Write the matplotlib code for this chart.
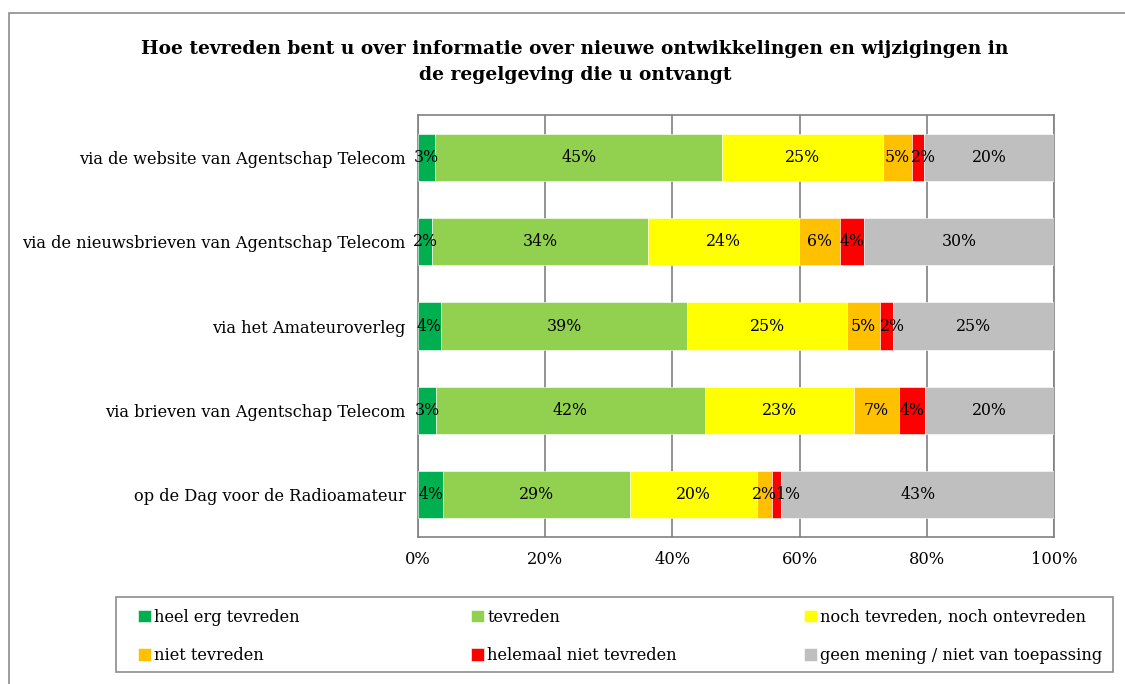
import matplotlib
matplotlib.use("Agg")
import matplotlib.pyplot as plt
from matplotlib.patches import Rectangle
import numpy as np

categories = [
    "via de website van Agentschap Telecom",
    "via de nieuwsbrieven van Agentschap Telecom",
    "via het Amateuroverleg",
    "via brieven van Agentschap Telecom",
    "op de Dag voor de Radioamateur",
]
series_names = [
    "heel erg tevreden",
    "tevreden",
    "noch tevreden, noch ontevreden",
    "niet tevreden",
    "helemaal niet tevreden",
    "geen mening / niet van toepassing",
]
heel_erg_tevreden = [2.7, 2.2, 3.6, 2.8, 4.0]
tevreden = [45.1, 34.0, 38.7, 42.3, 29.4]
noch = [25.3, 23.7, 25.2, 23.4, 19.9]
niet_tevreden = [4.6, 6.4, 5.1, 7.2, 2.4]
helemaal_niet = [1.9, 3.8, 2.1, 4.0, 1.4]
geen_mening = [20.4, 29.9, 25.3, 20.3, 42.9]
series = [heel_erg_tevreden, tevreden, noch, niet_tevreden, helemaal_niet, geen_mening]
colors = ["#00B050", "#92D050", "#FFFF00", "#FFC000", "#FF0000", "#BFBFBF"]
xticks = [0, 20, 40, 60, 80, 100]
title = "Hoe tevreden bent u over informatie over nieuwe ontwikkelingen en wijzigingen in\nde regelgeving die u ontvangt"

FONT = "DejaVu Serif"
plt.rcParams["font.family"] = FONT
FS = 11.7
LFS = 11.3

fig = plt.figure(figsize=(11.25, 6.84), dpi=100)
ax = fig.add_axes([418/1125, 1-537/684, (1054-418)/1125, (537-115)/684])

y = np.arange(len(categories))
left = np.zeros(len(categories))
for si, (name, vals, c) in enumerate(zip(series_names, series, colors)):
    vals = np.array(vals)
    ax.barh(y, vals, left=left, height=0.56, color=c, label=name,
            edgecolor="white", linewidth=0.4, zorder=3)
    for yi, l, v in zip(y, left, vals):
        # narrow red segments: label nudged right like the original
        dx = 0
        if si == 4:
            dx = 8 if v < 1.8 else (4 if v < 2.5 else 0)
        ax.annotate(f"{round(v)}%", (l + v/2, yi), xytext=(dx, 0),
                    textcoords="offset points", ha="center", va="center",
                    fontsize=LFS, color="black", zorder=4)
    left += vals

ax.set_xlim(0, 100)
ax.set_ylim(len(categories)-0.5, -0.5)
ax.set_yticks(y)
ax.set_yticklabels(categories, fontsize=FS)
ax.set_xticks(xticks)
ax.set_xticklabels([f"{t}%" for t in xticks], fontsize=FS)
ax.tick_params(axis="x", length=0, pad=10)
ax.tick_params(axis="y", length=0, pad=9)
ax.xaxis.grid(True, color="#808080", linewidth=1.2, zorder=0)
for s in ax.spines.values():
    s.set_color("#808080")
    s.set_linewidth(1.2)

fig.text(575/1125, 1-62/684, title, ha="center", va="center", fontsize=13.4,
         fontweight="bold", linespacing=1.5)

# outer chart border
fig.patches.append(Rectangle((9/1125, -0.1), 1.2, 1-13/684+0.1, transform=fig.transFigure,
                             fill=False, edgecolor="#8c8c8c", linewidth=1.2))

# legend frame
fig.patches.append(Rectangle((116/1125, 1-672/684), (1113-116)/1125, (672-597)/684,
                             transform=fig.transFigure, fill=False,
                             edgecolor="#8c8c8c", linewidth=1.2))
handles, labels = ax.get_legend_handles_labels()
col_x = [133, 466, 799]
for ci, x0 in enumerate(col_x):
    idx = [ci, ci + 3]
    fig.legend([handles[i] for i in idx], [labels[i] for i in idx], ncol=1,
               loc="upper left", bbox_to_anchor=(x0/1125, 1-604/684),
               frameon=False, fontsize=FS, handlelength=0.8, handleheight=0.8,
               handletextpad=0.2, borderaxespad=0, labelspacing=1.3, borderpad=0.3)

fig.savefig("out.png", dpi=100)
